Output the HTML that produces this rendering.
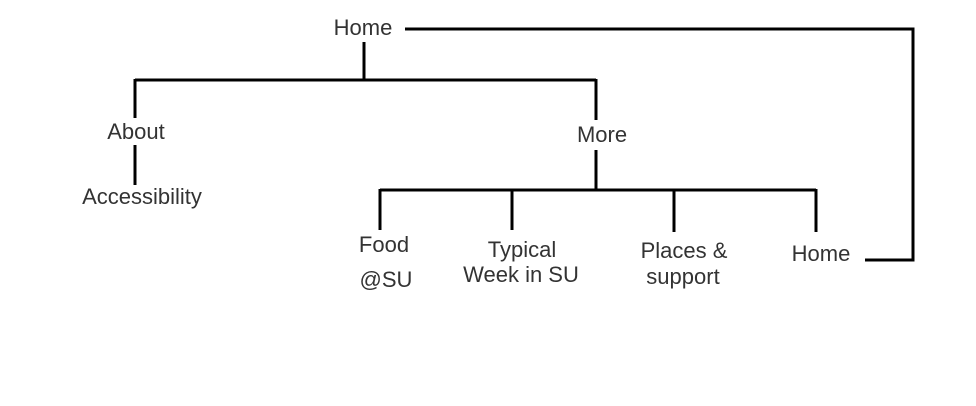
<!DOCTYPE html>
<html><head><meta charset="utf-8"><style>
html,body{margin:0;padding:0;background:#fff;}
svg{display:block;}
text{font-family:"Liberation Sans",sans-serif;font-size:22px;fill:#333;text-anchor:middle;}
</style></head><body>
<svg width="976" height="406" viewBox="0 0 976 406" xmlns="http://www.w3.org/2000/svg">
<g stroke="#000" stroke-width="3" fill="none">
<path d="M364 42 V80"/>
<path d="M135 80 H596"/>
<path d="M135 79 V118"/>
<path d="M596 79 V120"/>
<path d="M135 145 V185"/>
<path d="M596 150 V190"/>
<path d="M380 190 H816"/>
<path d="M380 189 V230"/>
<path d="M512 189 V230"/>
<path d="M674 189 V232"/>
<path d="M816 189 V232"/>
<path d="M405 29 H913 V260 H865"/>
</g>
<text x="363" y="35">Home</text>
<text x="136" y="139">About</text>
<text x="142" y="204">Accessibility</text>
<text x="602" y="142">More</text>
<text x="384" y="252">Food</text>
<text x="386" y="287">@SU</text>
<text x="522" y="257">Typical</text>
<text x="521" y="282">Week in SU</text>
<text x="684" y="258">Places &amp;</text>
<text x="683" y="284">support</text>
<text x="821" y="261">Home</text>
</svg>
</body></html>
